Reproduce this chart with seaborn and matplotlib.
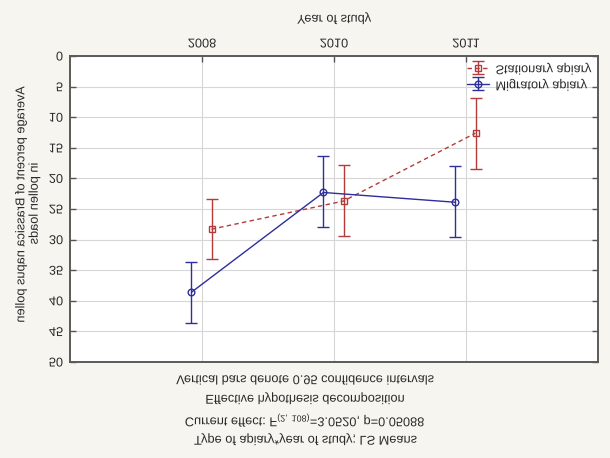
import numpy as np
import pandas as pd
import matplotlib
matplotlib.use("Agg")
import matplotlib.pyplot as plt
import seaborn as sns
from matplotlib.patheffects import AbstractPathEffect
from matplotlib.transforms import Affine2D
from matplotlib.container import ErrorbarContainer
import matplotlib.text as mtext

# ---------------- data ----------------
years = ["2008", "2010", "2011"]
series_names = ["Stationary apiary", "Migratory apiary"]
stationary_mean = [28.3, 23.7, 12.6]
stationary_low = [23.3, 17.8, 6.8]
stationary_high = [33.2, 29.4, 18.5]
migratory_mean = [38.6, 22.3, 23.9]
migratory_low = [33.6, 16.3, 18.0]
migratory_high = [43.6, 28.0, 29.5]
y_ticks = [0, 5, 10, 15, 20, 25, 30, 35, 40, 45, 50]

x_label = "Year of study"
y_label = "Average percent of Brassica napus pollen\nin pollen loads"
caption_lines = [
    "Vertical bars denote 0.95 confidence intervals",
    "Effective hypothesis decomposition",
    r"Current effect: F$_{(2,\ 108)}$=3.0520, p=0.05088",
    "Type of apiary*year of study; LS Means",
]


# vertical mirror of text glyphs (the reference image is flipped top-to-bottom)
class VFlip(AbstractPathEffect):
    def draw_path(self, renderer, gc, tpath, affine, rgbFace=None):
        ext = tpath.get_extents(affine)
        cy = (ext.y0 + ext.y1) / 2.0
        flip = affine + Affine2D().translate(0, -cy).scale(1, -1).translate(0, cy)
        renderer.draw_path(gc, tpath, flip, rgbFace)


sns.set_theme(style="white")
plt.rcParams["font.family"] = ["Liberation Sans", "DejaVu Sans"]
plt.rcParams["mathtext.fontset"] = "custom"
plt.rcParams["mathtext.rm"] = "Liberation Sans"
plt.rcParams["mathtext.it"] = "Liberation Sans"

TXT = "#2a2a2a"
BLUE = "#2e2e9c"
RED = "#b53b3b"
FS = 9.2

fig = plt.figure(figsize=(6.10, 4.58), dpi=100, facecolor="#f6f5f0")
ax = fig.add_axes([70 / 610, 1 - 362 / 458, 528 / 610, 306 / 458])
ax.set_facecolor("white")

idx = np.arange(len(years))
pos_s = idx + 0.072
pos_m = idx - 0.080

df_s = pd.DataFrame({"pos": pos_s, "value": stationary_mean})
df_m = pd.DataFrame({"pos": pos_m, "value": migratory_mean})

sns.lineplot(data=df_s, x="pos", y="value", ax=ax, color=RED, linewidth=1.0,
             linestyle=(0, (3.2, 2.4)), marker="s", markersize=4.6,
             markerfacecolor="none", markeredgecolor=RED, markeredgewidth=1.0,
             estimator=None, sort=False, zorder=4)
line_s = ax.lines[-1]
eb_s = ax.errorbar(pos_s, stationary_mean,
                   yerr=[np.array(stationary_mean) - np.array(stationary_low),
                         np.array(stationary_high) - np.array(stationary_mean)],
                   fmt="none", ecolor=RED, elinewidth=1.0, capsize=4.6, capthick=1.0, zorder=3)

sns.lineplot(data=df_m, x="pos", y="value", ax=ax, color=BLUE, linewidth=1.0,
             marker="o", markersize=4.8, markerfacecolor="none",
             markeredgecolor=BLUE, markeredgewidth=1.0,
             estimator=None, sort=False, zorder=4)
line_m = ax.lines[-1]
eb_m = ax.errorbar(pos_m, migratory_mean,
                   yerr=[np.array(migratory_mean) - np.array(migratory_low),
                         np.array(migratory_high) - np.array(migratory_mean)],
                   fmt="none", ecolor=BLUE, elinewidth=1.0, capsize=4.6, capthick=1.0, zorder=3)

# axes formatting
ax.set_xlim(-1.0, 3.0)
ax.set_ylim(50, 0)
ax.set_xticks(idx)
ax.set_xticklabels(years)
ax.set_yticks(y_ticks)
ax.set_yticklabels([str(v) for v in y_ticks])
ax.set_xlabel("")
ax.set_ylabel("")
ax.xaxis.tick_top()
ax.tick_params(axis="x", top=True, bottom=False, labeltop=True, labelbottom=False,
               direction="in", length=4, width=1, color="#555555",
               labelsize=FS, labelcolor=TXT, pad=4.0)
ax.tick_params(axis="y", left=True, right=True, direction="in", length=4, width=1,
               color="#555555", labelsize=FS, labelcolor=TXT, pad=5)
ax.grid(True, color="#d6d6d6", linewidth=0.8)
ax.set_axisbelow(True)
for sp in ax.spines.values():
    sp.set_visible(True)
    sp.set_color("#5a5a5a")
    sp.set_linewidth(1.4)

# legend (stationary first)
h_s = ErrorbarContainer((line_s, eb_s.lines[1], eb_s.lines[2]),
                        has_xerr=False, has_yerr=True, label=series_names[0])
h_m = ErrorbarContainer((line_m, eb_m.lines[1], eb_m.lines[2]),
                        has_xerr=False, has_yerr=True, label=series_names[1])
leg = ax.legend([h_s, h_m], series_names, loc="upper right", frameon=False,
                fontsize=FS, handlelength=1.7, handletextpad=0.5,
                labelspacing=0.32, borderpad=0.3, borderaxespad=0.25)
for t in leg.get_texts():
    t.set_color(TXT)

# labels and caption
fig.text(334 / 610, 1 - 18.5 / 458, x_label, ha="center", va="center",
         fontsize=FS, color=TXT)
fig.text(28 / 610, 1 - 204 / 458, y_label, ha="center", va="center",
         rotation=90, fontsize=FS, color=TXT, multialignment="center",
         linespacing=1.15)
cap_y = [381.5, 398.5, 420.5, 439.5]
for s, yy in zip(caption_lines, cap_y):
    fig.text(305 / 610, 1 - yy / 458, s, ha="center", va="center",
             fontsize=FS, color=TXT)

# mirror every text vertically, as in the reference image
fig.canvas.draw()
for t in fig.findobj(mtext.Text):
    t.set_path_effects([VFlip()])

fig.savefig("out.png", dpi=100, facecolor=fig.get_facecolor())
